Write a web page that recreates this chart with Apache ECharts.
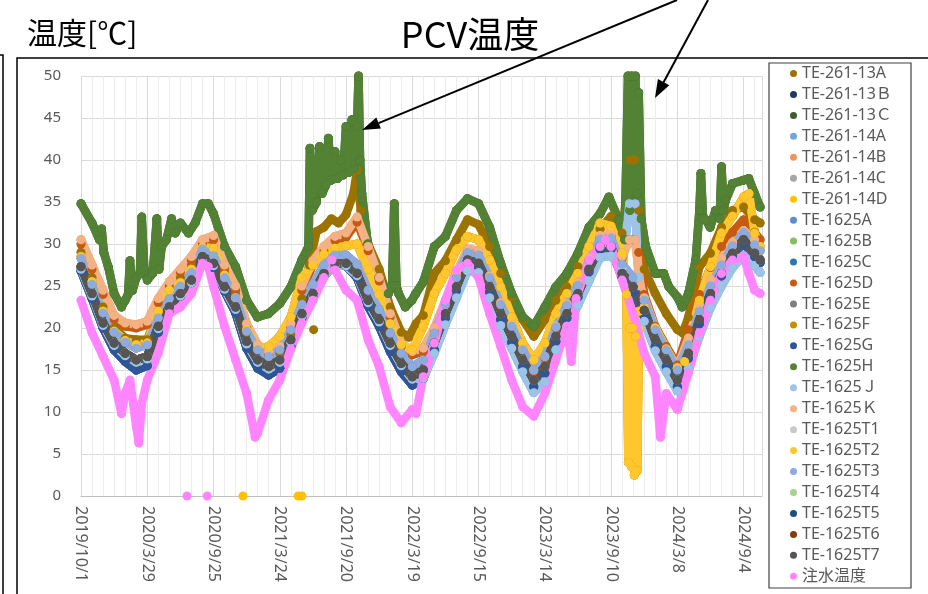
<!DOCTYPE html>
<html>
<head>
<meta charset="utf-8">
<title>PCV温度</title>
<script src="https://cdn.jsdelivr.net/npm/echarts@6/dist/echarts.min.js"></script>
<style>
html, body { margin: 0; padding: 0; background: #fff; }
#main { width: 928px; height: 594px; }
</style>
</head>
<body>
<div id="main"></div>
<script>
// x は 2019/10/1 からの経過日数, y は温度[℃]
// 凡例名 (表示順 = 描画順)
var names = ['TE-261-13A', 'TE-261-13Ｂ', 'TE-261-13Ｃ', 'TE-261-14A', 'TE-261-14B', 'TE-261-14C', 'TE-261-14D',
	'TE-1625A', 'TE-1625B', 'TE-1625C', 'TE-1625D', 'TE-1625E', 'TE-1625F', 'TE-1625G', 'TE-1625H',
	'TE-1625Ｊ', 'TE-1625Ｋ', 'TE-1625T1', 'TE-1625T2', 'TE-1625T3', 'TE-1625T4', 'TE-1625T5', 'TE-1625T6',
	'TE-1625T7', '注水温度'];

var colors = ['#9C7200', '#203864', '#3B5E2B', '#6FA8DC', '#F0955C', '#A5A5A5', '#FFC000',
	'#5B8BD0', '#88BD5F', '#2E75B6', '#C55A11', '#7F7F7F', '#BF9000', '#2F5597', '#548235',
	'#9DC3E6', '#F4B183', '#C9C9C9', '#FFC62E', '#8FAADC', '#A9D18E', '#1F4E79', '#843C0C',
	'#555555', '#FF85FF'];

// 主なセンサーの読み取り値
var green = [[0,34.8],[30,32.5],[50,30.5],[56,31.8],[62,29],[74,27.3],[90,24.1],[110,22.5],[120,23.3],[128,24],[133,28],[140,24.5],[150,26],[160,26.5],[165,33.2],[172,27],[180,25.7],[195,26.5],[206,33],[212,27],[219,29.7],[232,30.5],[246,33],[256,31.3],[270,32.5],[292,31.3],[310,32.5],[330,34.8],[346,34.8],[360,33.6],[390,29.7],[420,27.3],[450,23.3],[479,21.3],[509,21.7],[540,22.9],[570,24.9],[600,28.1],[618,29.7],[622,41.4],[628,34],[640,35],[648,41.6],[655,36],[665,37],[672,42.6],[680,37.6],[690,41],[697,37.8],[705,40],[712,38.2],[720,44],[727,38.5],[736,44.8],[742,39],[750,44],[754,50],[758,40],[763,36],[779,30],[809,26],[835,24.1],[845,25],[851,34.8],[857,25],[863,24.1],[881,22.5],[899,23.3],[908,24],[930,25.5],[960,29.7],[990,30.9],[1020,34],[1050,35.4],[1080,34.8],[1110,32],[1140,27.7],[1170,24.1],[1200,21.3],[1230,20.2],[1260,22.5],[1290,24.9],[1320,26.5],[1350,28.9],[1380,32],[1410,33.6],[1434,35.6],[1461,32.9],[1477,30.5],[1486,50],[1491,34],[1496,50],[1501,35],[1506,50],[1511,36],[1515,48],[1522,33],[1534,29.7],[1560,26.5],[1583,26.5],[1597,24.9],[1620,23.7],[1633,22.5],[1650,24.1],[1670,28.1],[1680,34],[1684,38.4],[1690,33],[1697,32.9],[1709,32],[1724,34],[1735,33],[1740,39.2],[1746,34],[1751,35.2],[1770,37.2],[1800,37.6],[1814,37.8],[1830,36],[1845,34.4]];

var olive = [[0,29],[30,26],[60,22.5],[90,20],[120,18.8],[150,18.6],[180,18.6],[210,22],[240,24.5],[270,26],[300,27.5],[330,29.5],[360,29.5],[390,26.5],[420,24],[450,19.5],[480,17.5],[510,16.6],[540,17],[570,19.2],[600,23.5],[620,27.5],[640,31.5],[660,32],[680,33],[700,32.5],[720,33.5],[740,36],[750,38.8],[760,34],[780,30],[810,27],[840,22.5],[870,19.5],[890,18.9],[910,20.5],[930,21.5],[960,26.5],[990,28],[1020,30.5],[1050,32.9],[1080,32.3],[1110,29.7],[1140,26.5],[1170,23.7],[1200,21],[1230,19],[1260,21],[1290,23.3],[1320,24.9],[1350,27.3],[1380,29.7],[1410,31.8],[1440,33.3],[1470,31.3],[1492,40],[1505,40],[1515,34],[1530,27],[1560,24.1],[1590,21.7],[1620,19.8],[1635,19.4],[1650,21.3],[1680,27.3],[1710,28.9],[1740,32],[1770,34],[1800,34.4],[1830,32.9],[1845,32.5]];
var oliveDots = [[632,19.8]];

var salmon = [[0,30.5],[30,27.5],[60,24.5],[90,21.5],[120,20.6],[150,20.4],[180,20.8],[210,23.5],[240,25.5],[270,27],[300,28.5],[330,30.5],[360,31],[390,27.5],[420,25],[450,20.5],[480,18],[510,17.2],[540,17.8],[570,20.5],[600,25],[630,28],[660,29.7],[690,30.9],[720,31.3],[750,33.2],[780,29.7],[810,26],[840,21.7],[870,18.2],[900,17.2],[930,17.6],[960,20],[990,23.3],[1020,26.5],[1050,29.4],[1080,29.2],[1110,26.2],[1140,23],[1170,20.5],[1200,17.6],[1230,15],[1260,16.6],[1290,20.2],[1320,22.9],[1350,25.4],[1380,28.3],[1410,31],[1440,31.2],[1470,28.5],[1490,30.5],[1505,30.5],[1520,25],[1530,23.6],[1560,20],[1590,17.5],[1620,15.3],[1650,18.8],[1680,22.8],[1710,25.8],[1740,28.3],[1770,30.2],[1800,31.6],[1830,30.5],[1845,29.6]];

var orange = [[0,30],[30,27],[60,24],[90,21],[120,20.2],[150,20],[180,20.4],[210,23],[240,25],[270,26.6],[300,28],[330,30],[360,30.5],[390,27],[420,24.5],[450,20],[480,17.6],[510,16.8],[540,17.4],[570,20],[600,24.5],[630,27.5],[660,29.2],[690,30.4],[720,30.8],[750,32.6],[780,29.2],[810,25.6],[840,21.3],[870,17.8],[900,16.8],[930,17.2],[960,19.8],[990,23],[1020,26.3],[1050,29.2],[1080,29],[1110,26],[1140,22.8],[1170,20.3],[1200,17.4],[1230,14.8],[1260,16.4],[1290,20],[1320,22.7],[1350,25.2],[1380,28.1],[1410,30.8],[1440,31],[1470,28.3],[1485,30.5],[1500,30.5],[1515,29],[1530,24],[1560,20.2],[1590,17.8],[1620,15.6],[1650,19.8],[1680,24],[1710,27.2],[1740,29.7],[1770,31.4],[1800,32.9],[1830,31.4],[1845,30.5]];

var yellow = [[0,28.5],[30,25.5],[60,22],[90,19.6],[120,18.5],[150,18],[180,18.2],[210,22],[240,24.5],[270,25.4],[300,27],[330,29.6],[360,29.5],[390,26.3],[420,23.6],[450,19.8],[480,17.5],[510,17.8],[540,19],[570,21.3],[600,26],[630,27.5],[660,28.8],[690,29.5],[720,29.8],[750,30],[780,27],[810,24],[840,20.5],[870,18],[900,17.4],[930,20.2],[960,24.1],[990,26.5],[1020,29.3],[1050,30.9],[1080,30.5],[1110,28.1],[1140,24.9],[1170,21.3],[1200,18.2],[1230,16.2],[1260,18.2],[1290,21.7],[1320,24.1],[1350,26.5],[1380,29.7],[1410,32.5],[1440,32.1],[1470,28.9],[1482,24],[1487,4],[1491,20],[1495,3.5],[1499,20],[1503,2.5],[1507,19],[1511,3],[1516,22],[1530,22.5],[1560,20],[1590,17.5],[1620,15.2],[1640,16],[1650,18],[1680,23.3],[1710,27.3],[1740,31.3],[1770,33.3],[1800,35.6],[1815,36],[1830,31.3],[1845,29.7]];
var yellowDots = [[440,0],[590,0],[600,0]];

var midBlue = [[0,28.3],[30,25.2],[60,21.8],[90,19.5],[120,18.3],[150,17.6],[180,18],[210,21.2],[240,23.5],[270,25],[300,26.6],[330,29.4],[360,28.6],[390,26],[420,23.6],[450,19.6],[480,17.4],[510,16.6],[540,17.4],[570,19.8],[600,22.8],[630,25.2],[660,27.5],[690,28.7],[720,28.7],[750,27.6],[780,24.5],[810,22.2],[840,19.4],[870,17],[900,15.4],[930,16.2],[960,19.4],[990,22.8],[1020,26],[1050,29],[1080,28.7],[1110,26],[1140,22.8],[1170,20.2],[1200,17.4],[1230,15],[1260,16.6],[1290,20.1],[1320,22.7],[1350,25.1],[1380,28],[1410,30.6],[1440,30.7],[1470,27.6],[1500,26],[1530,23.3],[1560,19.8],[1590,17.4],[1620,15],[1650,18],[1680,22],[1710,25],[1740,27.5],[1770,29.8],[1800,31.4],[1830,29.9],[1845,29.2]];

var ltBlue = [[0,27],[30,23.8],[60,20.3],[90,17.9],[120,16.7],[150,15.9],[180,16.3],[210,19.9],[240,22.2],[270,23.8],[300,25.4],[330,28.2],[360,27.4],[390,24.6],[420,22.2],[450,18.1],[480,15.9],[510,15.1],[540,15.9],[570,18.3],[600,21.4],[630,23.8],[660,26.2],[690,27.4],[720,27.4],[750,26.2],[780,23],[810,20.7],[840,17.9],[870,15.5],[900,13.9],[930,14],[960,17],[990,20.4],[1020,23.6],[1050,26.8],[1080,26.6],[1110,23.6],[1140,20.3],[1170,17.6],[1200,14.8],[1230,12.3],[1260,13.6],[1290,17.4],[1320,20.2],[1350,22.7],[1380,25.6],[1410,28.4],[1440,28.6],[1470,27],[1490,34.8],[1505,34.8],[1515,26],[1530,20.8],[1560,17.3],[1590,14.8],[1620,12.5],[1650,15.2],[1680,19],[1710,22.4],[1740,25],[1770,27.2],[1800,28.6],[1830,27.4],[1845,26.6]];

var gray = [[0,27.3],[30,24.1],[60,20.6],[90,18.2],[120,17],[150,16.2],[180,16.6],[210,20.2],[240,22.5],[270,24.1],[300,25.7],[330,28.5],[360,27.7],[390,24.9],[420,22.5],[450,18.4],[480,16.2],[510,15.4],[540,16.2],[570,18.6],[600,21.7],[630,24.1],[660,26.5],[690,27.7],[720,27.7],[750,26.5],[780,23.3],[810,21],[840,18.2],[870,15.8],[900,14.2],[930,15],[960,18.2],[990,21.7],[1020,24.9],[1050,28.1],[1080,27.7],[1110,24.9],[1140,21.7],[1170,19],[1200,16.2],[1230,13.8],[1260,15.4],[1290,19],[1320,21.7],[1350,24.1],[1380,27],[1410,29.7],[1440,29.7],[1470,26.5],[1500,24.9],[1530,22.1],[1560,18.6],[1590,16.2],[1620,13.8],[1650,17],[1680,21],[1710,24.1],[1740,26.5],[1770,28.9],[1800,30.5],[1830,28.9],[1845,28.1]];

var navy = [[0,26.8],[30,23.5],[60,20],[90,17.4],[120,16],[150,15],[180,15.5],[210,19.5],[240,22],[270,23.8],[300,25.4],[330,28.2],[360,27.2],[390,24.4],[420,21.8],[450,17.6],[480,15.2],[510,14.4],[540,15.2],[570,17.8],[600,21.2],[630,23.8],[660,26.2],[690,27.4],[720,27.4],[750,26],[780,22.6],[810,20.2],[840,17.2],[870,14.8],[900,13.2],[930,14],[960,17.4],[990,21.2],[1020,24.5],[1050,27.8],[1080,27.3],[1110,24.3],[1140,21],[1170,18.3],[1200,15.4],[1230,13],[1260,14.6],[1290,18.4],[1320,21.2],[1350,23.7],[1380,26.7],[1410,29.4],[1440,29.4],[1470,26],[1500,24.3],[1530,21.4],[1560,17.8],[1590,15.4],[1620,13],[1650,16.4],[1680,20.5],[1710,23.7],[1740,26.2],[1770,28.6],[1800,30.2],[1830,28.5],[1845,27.8]];

var pink = [[0,23.3],[30,19.4],[60,16.6],[90,13.8],[110,9.8],[120,12.2],[133,13.8],[150,8.3],[157,6.3],[165,11],[180,13.8],[210,17],[240,21.7],[270,22.5],[300,24.1],[330,27.7],[346,27.3],[360,24.9],[390,20.2],[420,16.2],[450,12.2],[473,7],[480,7.5],[509,11.4],[540,13.8],[570,17.5],[600,20.6],[630,23.3],[660,26],[682,28.1],[690,26.9],[720,24.5],[750,23.3],[780,18.6],[810,15.4],[840,10.6],[870,8.7],[900,10.3],[910,9.8],[930,14.2],[960,18.2],[990,23.3],[1020,26.9],[1050,27.7],[1080,26],[1110,21.7],[1140,17.8],[1170,13.8],[1200,10.6],[1230,9.5],[1260,12.2],[1290,16.2],[1320,20.2],[1332,16],[1345,23.5],[1380,28.1],[1410,29.7],[1425,30.5],[1440,29.7],[1470,25.7],[1500,21.7],[1530,17],[1560,14.2],[1574,7],[1590,12.2],[1620,10.3],[1650,14.6],[1680,19.4],[1710,23.3],[1740,26.5],[1770,28.1],[1800,28.5],[1814,26.5],[1830,24.5],[1845,24.1]];
var pinkDots = [[288,0],[343,0]];

// 離れた点は null で線を切ってから追加する
function withDots(line, dots) {
	var out = line.slice();
	for (var i = 0; i < dots.length; i++) {
		out.push([dots[i][0], null]);
		out.push(dots[i]);
	}
	return out;
}

// 各凡例に対応するデータ (重なって見えない系列は近い系列と共用)
var seriesData = [
	withDots(olive, oliveDots), navy, green, ltBlue, salmon, gray, withDots(yellow, yellowDots),
	midBlue, gray, navy, orange, gray, yellow, navy, green,
	ltBlue, salmon, gray, yellow, midBlue, gray, gray, gray,
	gray, withDots(pink, pinkDots)
];

function dayLabel(d) {
	var t = new Date(2019, 9, 1 + d);
	return t.getFullYear() + '/' + (t.getMonth() + 1) + '/' + t.getDate();
}

var series = [];
for (var i = 0; i < names.length; i++) {
	series.push({
		name: names[i],
		type: 'line',
		xAxisIndex: 0,
		data: seriesData[i],
		symbol: 'circle',
		symbolSize: 9,
		showSymbol: true,
		clip: false,
		connectNulls: false,
		itemStyle: { color: colors[i] },
		lineStyle: { color: colors[i], width: 8.5, cap: 'round', join: 'round' },
		emphasis: { disabled: true }
	});
}

var chart = echarts.init(document.getElementById('main'));
var font = "'Noto Sans', 'Noto Sans CJK JP', sans-serif";
var option = {
	animation: false,
	backgroundColor: '#fff',
	grid: { left: 81, top: 76, right: 166, bottom: 98 },
	legend: {
		orient: 'vertical',
		left: 790,
		top: 65,
		icon: 'circle',
		itemWidth: 7,
		itemHeight: 7,
		itemGap: 3.95,
		padding: 0,
		textStyle: { fontFamily: font, fontSize: 16, lineHeight: 17, color: '#595959' },
		data: names
	},
	xAxis: [{
		type: 'value',
		min: 0,
		max: 1850,
		interval: 180,
		z: 1,
		axisLine: { show: true, lineStyle: { color: '#bfbfbf' } },
		axisTick: { show: false },
		splitLine: { show: true, lineStyle: { color: '#d9d9d9' } },
		axisLabel: {
			rotate: -90,
			margin: 10,
			showMaxLabel: false,
			fontFamily: font,
			fontSize: 16,
			color: '#595959',
			formatter: dayLabel
		}
	}, {
		// 30日ごとの補助目盛線
		type: 'value',
		min: 0,
		max: 1850,
		interval: 30,
		z: 0,
		axisLine: { show: false },
		axisTick: { show: false },
		axisLabel: { show: false },
		splitLine: { show: true, lineStyle: { color: '#ececec' } }
	}],
	yAxis: {
		type: 'value',
		min: 0,
		max: 50,
		interval: 5,
		axisLine: { show: false },
		axisTick: { show: false },
		splitLine: { lineStyle: { color: '#d9d9d9' } },
		axisLabel: { margin: 20, fontFamily: font, fontSize: 15, color: '#595959' }
	},
	graphic: [
		{ type: 'polyline', shape: { points: [[17, 594], [17, 58], [928, 58]] }, style: { stroke: '#000', lineWidth: 1.5, fill: null } },
		{ type: 'polyline', shape: { points: [[0, 55], [3, 55], [3, 594]] }, style: { stroke: '#000', lineWidth: 1.5, fill: null } },
		{ type: 'rect', shape: { x: 769, y: 63, width: 142, height: 525 }, style: { stroke: '#404040', lineWidth: 1.2, fill: null } },
		{ type: 'text', x: 470, y: 34, style: { text: 'PCV温度', align: 'center', verticalAlign: 'middle', fontFamily: 'Noto Sans CJK JP', fontSize: 36, fill: '#000' } },
		{ type: 'text', x: 27, y: 33, style: { text: '温度[℃]', align: 'left', verticalAlign: 'middle', fontFamily: 'Noto Sans CJK JP', fontSize: 30, fill: '#000' } },
		{ type: 'line', z: 100, shape: { x1: 677, y1: 0, x2: 378.6, y2: 123.1 }, style: { stroke: '#000', lineWidth: 2 } },
		{ type: 'polygon', z: 100, shape: { points: [[362, 130], [376.3, 117.6], [380.9, 128.6]] }, style: { fill: '#000' } },
		{ type: 'line', z: 100, shape: { x1: 708, y1: 0, x2: 663.6, y2: 82.2 }, style: { stroke: '#000', lineWidth: 2 } },
		{ type: 'polygon', z: 100, shape: { points: [[655, 98], [657.9, 79.1], [669.3, 85.3]] }, style: { fill: '#000' } }
	],
	series: series
};
chart.setOption(option);
</script>
</body>
</html>
